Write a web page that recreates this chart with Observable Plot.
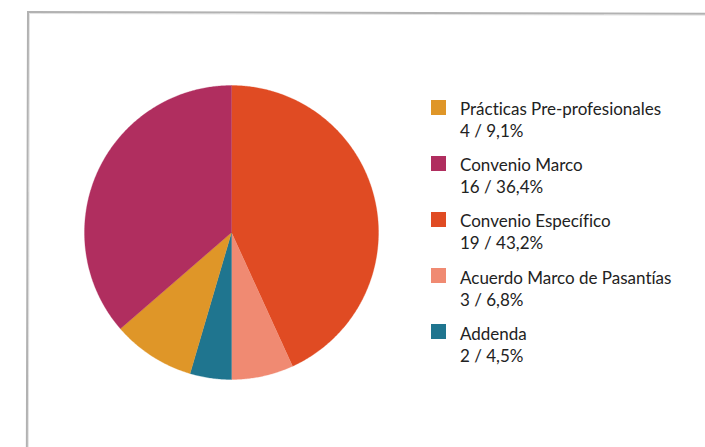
<!DOCTYPE html>
<html>
<head>
<meta charset="utf-8">
<script src="https://cdn.jsdelivr.net/npm/d3@7"></script>
<script src="https://cdn.jsdelivr.net/npm/@observablehq/plot@0.6"></script>
<style>
  html, body { margin: 0; padding: 0; background: #fff; width: 705px; height: 447px; overflow: hidden; }
  #wrap { position: relative; width: 705px; height: 447px; }
  #frame { position: absolute; left: 27px; top: 11px; width: 900px; height: 700px; border: 2px solid #b2b2b2; box-shadow: inset 1px 1px 0 #e4e4e4; box-sizing: border-box; transform-origin: 0 0; transform: rotate(0.15deg); }
  #chart { position: absolute; left: 0; top: 0; }
  .entry { position: absolute; left: 431px; font-family: Lato, "Open Sans", sans-serif; font-size: 17px; color: #222; font-variant-ligatures: none; }
  .sw { position: absolute; left: 0; top: 0; width: 15px; height: 15px; }
  .lbl { position: absolute; left: 29px; top: -1.5px; line-height: 22px; white-space: nowrap; }
</style>
</head>
<body>
<div id="wrap">
  <div id="frame"></div>
  <div id="chart"></div>
  <div id="legend"></div>
</div>
<script>
// Data (legend order)
const categories = ["Prácticas Pre-profesionales", "Convenio Marco", "Convenio Específico", "Acuerdo Marco de Pasantías", "Addenda"];
const counts = [4, 16, 19, 3, 2];
const colors = ["#df9628", "#b02e5f", "#e04b23", "#f08a72", "#1f758f"];
// Slice order in the pie, clockwise from 12 o'clock
const pieOrder = ["Convenio Específico", "Acuerdo Marco de Pasantías", "Addenda", "Prácticas Pre-profesionales", "Convenio Marco"];

const total = d3.sum(counts);
const fmtPct = v => (Math.round(v * 1000) / 10).toFixed(1).replace(".", ",") + "%";

// Build slice polygons (geometry derived from counts)
const pts = [];
let acc = 0;
for (const name of pieOrder) {
  const v = counts[categories.indexOf(name)];
  const a0 = acc / total * 2 * Math.PI;
  const a1 = (acc + v) / total * 2 * Math.PI;
  acc += v;
  pts.push({cat: name, x: 0, y: 0});
  const n = Math.max(2, Math.ceil((a1 - a0) / (Math.PI / 360)));
  for (let i = 0; i <= n; i++) {
    const a = a0 + (a1 - a0) * i / n;
    pts.push({cat: name, x: Math.sin(a), y: Math.cos(a)});
  }
  pts.push({cat: name, x: 0, y: 0});
}

const plot = Plot.plot({
  width: 705,
  height: 447,
  marginLeft: 84,
  marginRight: 705 - 378,
  marginTop: 85,
  marginBottom: 447 - 379,
  x: {domain: [-1, 1], axis: null},
  y: {domain: [-1, 1], axis: null},
  color: {domain: categories, range: colors},
  style: {background: "transparent"},
  marks: [
    Plot.line(pts, {x: "x", y: "y", z: "cat", fill: "cat", stroke: "cat", strokeWidth: 0.3, curve: "linear"})
  ]
});
document.getElementById("chart").appendChild(plot);

// Legend
const legend = document.getElementById("legend");
categories.forEach((c, i) => {
  const e = document.createElement("div");
  e.className = "entry";
  e.style.top = (99.5 + i * 56.2) + "px";
  e.innerHTML = `<div class="sw" style="background:${colors[i]}"></div><div class="lbl">${c}<br>${counts[i]} / ${fmtPct(counts[i] / total)}</div>`;
  legend.appendChild(e);
});
</script>
</body>
</html>
